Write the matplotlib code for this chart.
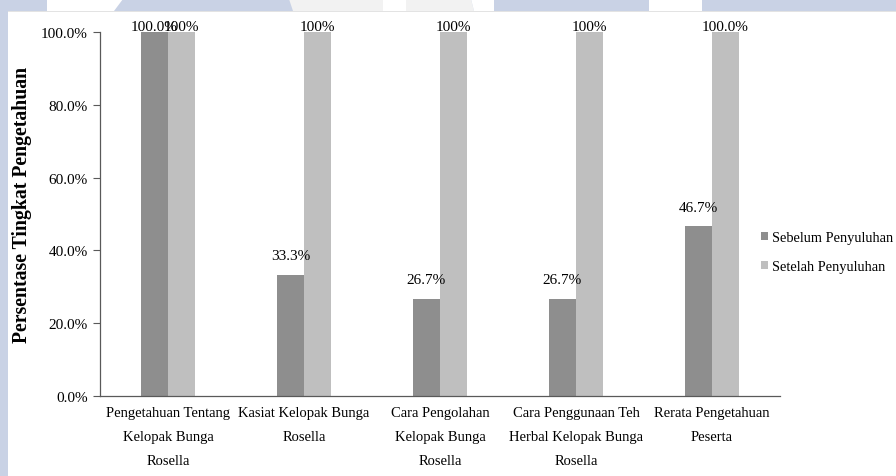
import matplotlib
matplotlib.use("Agg")
import matplotlib.pyplot as plt
from matplotlib.patches import Polygon
import numpy as np

categories = ["Pengetahuan Tentang\nKelopak Bunga\nRosella",
              "Kasiat Kelopak Bunga\nRosella",
              "Cara Pengolahan\nKelopak Bunga\nRosella",
              "Cara Penggunaan Teh\nHerbal Kelopak Bunga\nRosella",
              "Rerata Pengetahuan\nPeserta"]
sebelum = [100.0, 33.3, 26.7, 26.7, 46.7]
setelah = [100.0, 100.0, 100.0, 100.0, 100.0]
sebelum_labels = ["100.0%", "33.3%", "26.7%", "26.7%", "46.7%"]
setelah_labels = ["100%", "100%", "100%", "100%", "100.0%"]
series_names = ["Sebelum Penyuluhan", "Setelah Penyuluhan"]
yticks = [0, 20, 40, 60, 80, 100]
ytick_labels = ["0.0%", "20.0%", "40.0%", "60.0%", "80.0%", "100.0%"]

W, H = 896, 477
DARK = "#8e8e8e"
LIGHT = "#bfbfbf"
BLUE = "#c9d2e5"
FONT = "Liberation Serif"
FS = 11

fig = plt.figure(figsize=(W / 100, H / 100), dpi=100, facecolor=BLUE)

def px_poly(pts, color, z=-5):
    fig.patches.append(Polygon([(x / W, 1 - y / H) for x, y in pts], closed=True,
                               transform=fig.transFigure, facecolor=color,
                               edgecolor="none", zorder=z))

# chart area (white) with faint top edge
px_poly([(8, 12), (W, 12), (W, H), (8, H)], "white")
px_poly([(8, 12), (W, 12), (W, 13), (8, 13)], "#e3e3e3", z=-4)
# watermark shapes in top band
px_poly([(47, 0), (123, 0), (114, 12), (47, 12)], "white")
px_poly([(289, 0), (383, 0), (383, 12), (293, 12)], "#f2f2f2")
px_poly([(383, 0), (406, 0), (406, 12), (383, 12)], "white")
px_poly([(406, 0), (471, 0), (474, 12), (406, 12)], "#f2f2f2")
px_poly([(471, 0), (494, 0), (494, 12), (474, 12)], "white")
px_poly([(649, 0), (702, 0), (702, 12), (649, 12)], "white")

ax = fig.add_axes([100 / W, (H - 397) / H, 680 / W, 364 / H])
ax.set_zorder(1)
ax.patch.set_alpha(0)
x = np.arange(len(categories))
w = 0.2
ax.bar(x - w / 2, sebelum, w, color=DARK, label=series_names[0], zorder=2)
ax.bar(x + w / 2, setelah, w, color=LIGHT, label=series_names[1], zorder=2)

ax.set_xlim(-0.5, len(categories) - 0.5)
ax.set_ylim(0, 100)
ax.set_yticks(yticks)
ax.set_yticklabels(ytick_labels, fontname=FONT, fontsize=FS)
ax.set_xticks(x)
ax.set_xticklabels(categories, fontname=FONT, fontsize=10.5, linespacing=2.12)
ax.tick_params(axis="x", length=0, pad=7)
ax.tick_params(axis="y", length=5, width=0.8, color="#595959", pad=4)
for s in ["top", "right"]:
    ax.spines[s].set_visible(False)
for s in ["left", "bottom"]:
    ax.spines[s].set_color("#595959")
    ax.spines[s].set_linewidth(0.9)

def lab_y(v):
    return min(v + 5.2, 101.4)

for xi, v, t in zip(x, sebelum, sebelum_labels):
    ax.text(xi - w / 2, lab_y(v), t, ha="center", va="center", fontname=FONT,
            fontsize=FS, clip_on=False, zorder=3)
for xi, v, t in zip(x, setelah, setelah_labels):
    ax.text(xi + w / 2, lab_y(v), t, ha="center", va="center", fontname=FONT,
            fontsize=FS, clip_on=False, zorder=3)

ax.set_ylabel("Persentase Tingkat Pengetahuan", fontname=FONT, fontsize=14.2,
              fontweight="bold")
ax.yaxis.set_label_coords((32 - 100) / 680, (397 - 205) / 364)

leg = ax.legend(loc="center left", bbox_to_anchor=((755 - 100) / 680, (397 - 253) / 364),
                frameon=False, prop={"family": FONT, "size": 10.4},
                handlelength=0.5, handleheight=0.5, handletextpad=0.3,
                labelspacing=1.1, borderaxespad=0)

fig.savefig("out.png", dpi=100, facecolor=BLUE)
